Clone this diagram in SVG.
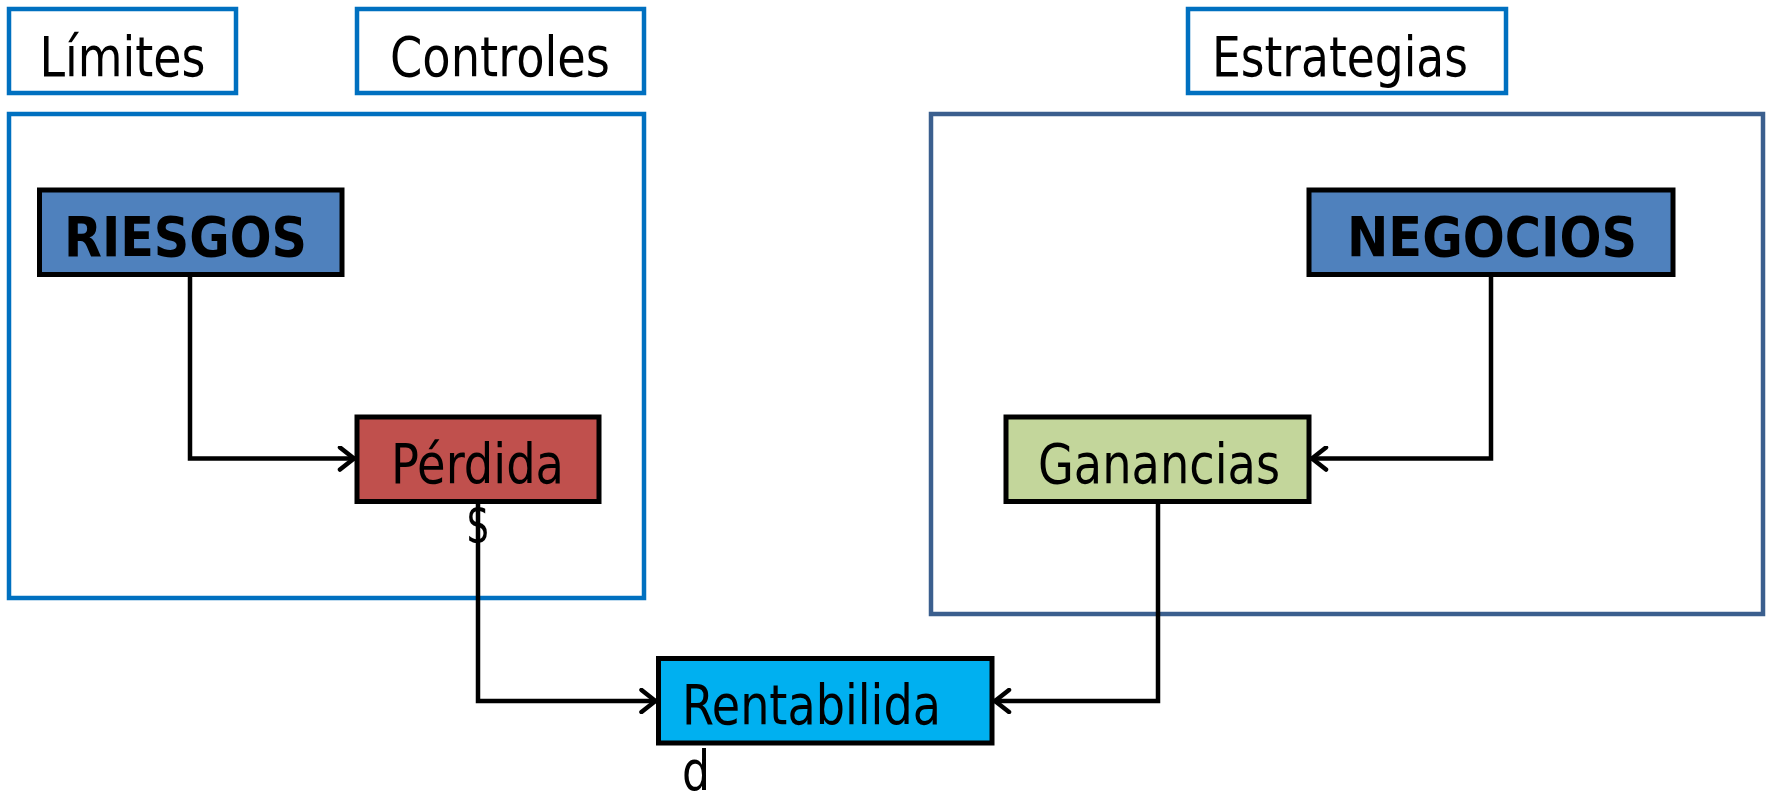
<svg xmlns="http://www.w3.org/2000/svg" width="1771" height="793" viewBox="0 0 1771 793">
<defs>
<style>
.lbl{fill:#fff;stroke:#0070C0;stroke-width:4.5}
.grp1{fill:#fff;stroke:#0070C0;stroke-width:4.5}
.grp2{fill:#fff;stroke:#3B5F8E;stroke-width:4.5}
.node{stroke:#000;stroke-width:5}
.t{font-family:"DejaVu Sans Condensed","DejaVu Sans",sans-serif;font-size:55px;fill:#000}
.b{font-family:"DejaVu Sans Condensed","DejaVu Sans",sans-serif;font-size:55px;font-weight:bold;fill:#000}
.c{fill:none;stroke:#000;stroke-width:4.5}
</style>
<marker id="arr" markerUnits="userSpaceOnUse" viewBox="0 0 20 26" refX="18" refY="13" markerWidth="20" markerHeight="26" orient="auto">
<path d="M3,2 L17,13 L3,24" fill="none" stroke="#000" stroke-width="4.5" stroke-linecap="round"/>
</marker>
</defs>
<rect width="1771" height="793" fill="#fff"/>
<g id="limites"><rect class="lbl" x="9" y="9" width="227" height="84"/><text class="t" x="39.5" y="75.5" textLength="166" lengthAdjust="spacingAndGlyphs">Límites</text></g>
<g id="controles"><rect class="lbl" x="357" y="9" width="287" height="84"/><text class="t" x="390" y="75.5" textLength="220" lengthAdjust="spacingAndGlyphs">Controles</text></g>
<g id="estrategias"><rect class="lbl" x="1188" y="9" width="318" height="84"/><text class="t" x="1212" y="75.5" textLength="256" lengthAdjust="spacingAndGlyphs">Estrategias</text></g>
<g id="grupo-izq"><rect class="grp1" x="9" y="114" width="635" height="484"/></g>
<g id="grupo-der"><rect class="grp2" x="931" y="114" width="832" height="500"/></g>
<g id="riesgos"><rect class="node" fill="#4F81BD" x="39.5" y="190" width="302.5" height="84.5"/><text class="b" x="64" y="256" textLength="243" lengthAdjust="spacingAndGlyphs">RIESGOS</text></g>
<g id="negocios"><rect class="node" fill="#4F81BD" x="1309" y="190" width="364" height="84.5"/><text class="b" x="1347" y="256" textLength="290" lengthAdjust="spacingAndGlyphs">NEGOCIOS</text></g>
<g id="perdidas"><rect class="node" fill="#C0504D" x="357" y="417" width="242" height="84.5"/><text class="t" x="391" y="483" textLength="173" lengthAdjust="spacingAndGlyphs">Pérdida</text><text class="t" x="466" y="543" textLength="24" lengthAdjust="spacingAndGlyphs">$</text></g>
<g id="ganancias"><rect class="node" fill="#C3D69B" x="1006" y="417" width="303" height="84.5"/><text class="t" x="1038" y="483" textLength="242" lengthAdjust="spacingAndGlyphs">Ganancias</text></g>
<g id="rentabilidad"><rect class="node" fill="#00B0F0" x="658.5" y="658.5" width="333.5" height="84.5"/><text class="t" x="682" y="724" textLength="259" lengthAdjust="spacingAndGlyphs">Rentabilida</text><text class="t" x="682" y="789.5" textLength="28" lengthAdjust="spacingAndGlyphs">d</text></g>
<g id="connectors">
<path class="c" d="M190,274.5 V458.5 H355" marker-end="url(#arr)"/>
<path class="c" d="M1491,274.5 V458.5 H1311" marker-end="url(#arr)"/>
<path class="c" d="M478,501.5 V701 H656.5" marker-end="url(#arr)"/>
<path class="c" d="M1158,501.5 V701 H994" marker-end="url(#arr)"/>
</g>
</svg>
